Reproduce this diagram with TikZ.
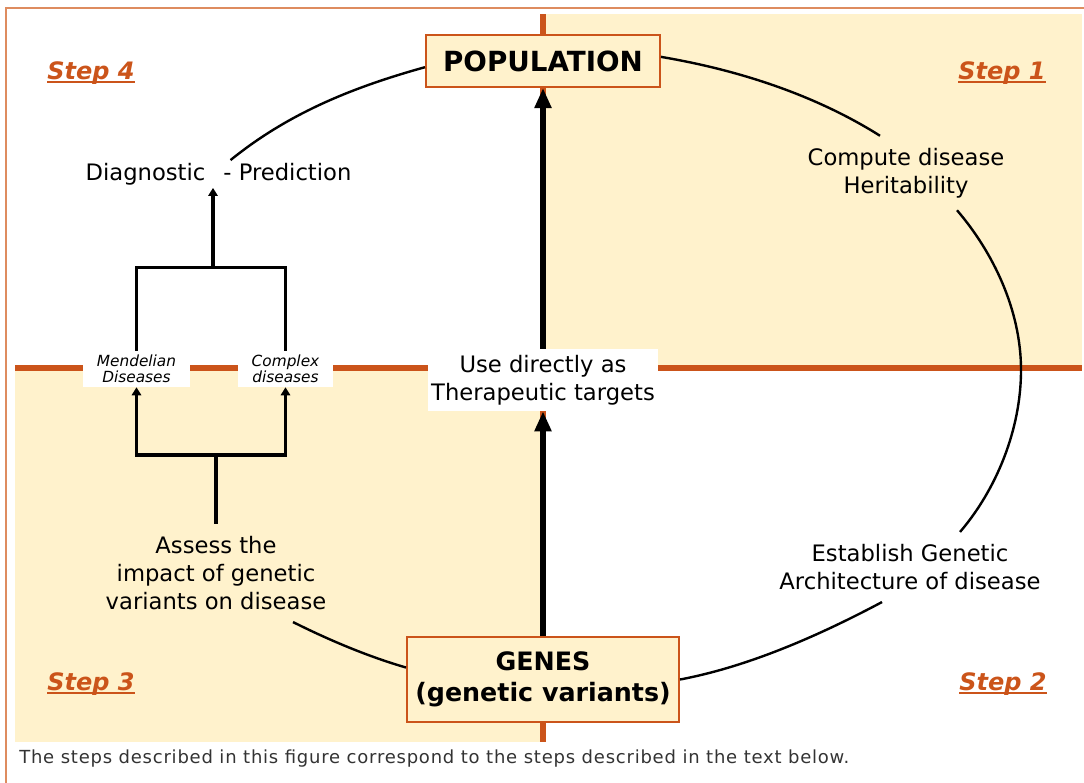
\documentclass[tikz,border=0pt]{standalone}
\usepackage{fontspec}
\setmainfont{DejaVu Sans}
\newfontfamily\captionfont[LetterSpace=4.3]{DejaVu Sans}
\usepackage{tikz}
\usetikzlibrary{arrows.meta,positioning,calc}
\definecolor{creamfill}{RGB}{255,242,204}
\definecolor{rust}{RGB}{203,84,26}
\definecolor{rustlight}{RGB}{222,140,95}
\definecolor{captiongray}{RGB}{51,51,51}

\newcommand{\stepul}[1]{\setbox0\hbox{#1}\rlap{\rule[-3pt]{\wd0}{1.5pt}}\box0}

\begin{document}
\begin{tikzpicture}[
    x=0.75pt, y=-0.75pt,
    mainbox/.style={rectangle, draw=rust, line width=1.5pt, fill=creamfill, align=center, font=\fontsize{20.8}{25}\selectfont\bfseries},
    textlabel/.style={align=center, inner xsep=0pt, inner ysep=9pt, font=\fontsize{17}{21}\selectfont},
    whitebox/.style={rectangle, fill=white, inner sep=0pt, align=center},
    diseasebox/.style={whitebox, minimum height=27pt, font=\fontsize{11.5}{12}\selectfont\itshape},
    steplabel/.style={anchor=base west, inner sep=0pt, text=rust, font=\fontsize{18}{22}\selectfont\bfseries\itshape},
    loopline/.style={line width=1.8pt},
    bigarrow/.style={-{Triangle[length=15pt,width=12pt]}, line width=4pt},
    tree/.style={line width=2.6pt},
    treearrow/.style={tree, -{Triangle[length=6pt,width=7pt]}},
    divider/.style={rust, line width=5pt}
]
    \useasboundingbox (0,0) rectangle (1084,782);
    \clip (0,0) rectangle (1084,782);

    % Frame and quadrants
    \draw[rustlight, line width=1.5pt] (5.5,7.5) rectangle (1100,800);
    \fill[creamfill] (543,14) rectangle (1082,368);
    \fill[creamfill] (15,368) rectangle (543,742);
    \draw[divider] (15,368) -- (1082,368);
    \draw[divider] (543,14) -- (543,742);

    % Main boxes
    \node[mainbox, minimum width=175.5pt, minimum height=39pt] (pop) at (543,61) {POPULATION};
    \node[mainbox, minimum width=204pt, minimum height=63.75pt, font=\fontsize{19}{23}\selectfont\bfseries] (genes) at (543,679.5) {GENES\\(genetic variants)};
    \node[whitebox, minimum width=173pt, minimum height=46.5pt, font=\fontsize{17}{21}\selectfont] (use) at (543,380) {Use directly as\\Therapeutic targets};

    % Steps
    \node[steplabel] (step4) at (47,79) {\stepul{Step 4}};
    \node[steplabel] (step1) at (958,79) {\stepul{Step 1}};
    \node[steplabel] (step3) at (47,690) {\stepul{Step 3}};
    \node[steplabel] (step2) at (959,690) {\stepul{Step 2}};

    % Labels on the cycle
    \node[textlabel] (compute) at (906,173) {Compute disease\\Heritability};
    \node[textlabel] (arch) at (910,567) {Establish Genetic\\Architecture of disease};
    \node[textlabel] (assess) at (216,573) {Assess the\\impact of genetic\\variants on disease};
    \node[textlabel, inner ysep=2pt] (diag) at (218.5,174) {Diagnostic\hspace{13.5pt}- Prediction};
    \node[diseasebox, minimum width=80pt] (mend) at (136.5,369) {Mendelian\\Diseases};
    \node[diseasebox, minimum width=71pt] (cplx) at (285.5,369) {Complex\\diseases};

    % Cycle
    \coordinate (rim) at (1021,370);
    \draw[loopline] (pop.2) .. controls +(77,13) and +(-65,-41) .. ($(compute.north)+(-26,0)$);
    \draw[loopline] ($(compute.south)+(51,0)$) .. controls +(36,42) and +(0,-60) .. (rim)
        .. controls +(0,60) and +(36,-42) .. ($(arch.north)+(50,0)$);
    \draw[loopline] ($(arch.south)+(-28,0)$) .. controls +(-62,33) and +(69,-13) .. (genes.east);
    \draw[loopline] (genes.175) .. controls +(-38,-11) and +(36,18) .. ($(assess.south)+(77,0)$);
    \draw[loopline] ($(diag.north)+(12,0)$) .. controls +(58,-47) and +(-72,20) .. (pop.183);

    % Direct route
    \draw[bigarrow] (genes.north) -- (use.south);
    \draw[bigarrow] (use.north) -- (pop.south);

    % Disease tree
    \coordinate (fork3) at (216,455);
    \coordinate (fork4) at (213,268);
    \draw[tree] (assess.north) -- (fork3);
    \draw[treearrow] (fork3) -| (mend.south);
    \draw[treearrow] (fork3) -| (cplx.south);
    \draw[tree] (mend.north) -- ++(0,-83) -| (cplx.north);
    \draw[treearrow] (fork4) -- (fork4 |- diag.south);

    \node[anchor=base west, inner sep=0pt, text=captiongray, font=\captionfont\fontsize{13.5}{16}\selectfont] (caption) at (19,763) {The steps described in this figure correspond to the steps described in the text below.};

\end{tikzpicture}
\end{document}
